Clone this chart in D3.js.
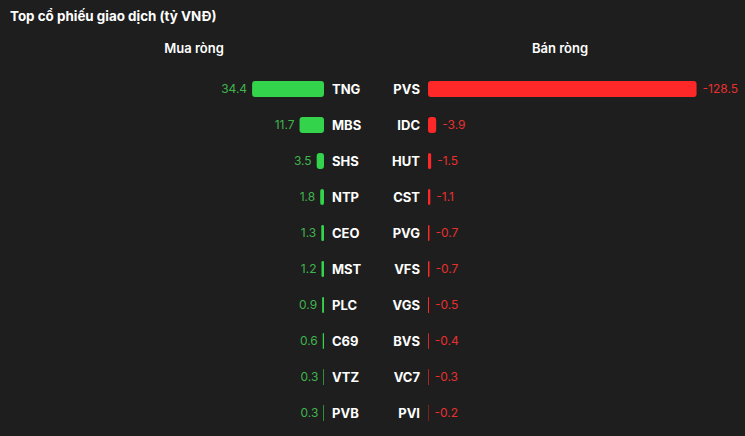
<!DOCTYPE html>
<html>
<head>
<meta charset="utf-8">
<script src="https://cdn.jsdelivr.net/npm/d3@7"></script>
<style>
  html, body { margin: 0; padding: 0; background: #1e1e1e; }
  text { font-family: Inter, "Noto Sans", sans-serif; }
</style>
</head>
<body>
<div id="chart"></div>
<script>
// du lieu
const buyTickers = ["TNG", "MBS", "SHS", "NTP", "CEO", "MST", "PLC", "C69", "VTZ", "PVB"];
const buyValues = [34.4, 11.7, 3.5, 1.8, 1.3, 1.2, 0.9, 0.6, 0.3, 0.3];
const sellTickers = ["PVS", "IDC", "HUT", "CST", "PVG", "VFS", "VGS", "BVS", "VC7", "PVI"];
const sellValues = [-128.5, -3.9, -1.5, -1.1, -0.7, -0.7, -0.5, -0.4, -0.3, -0.2];

const width = 745, height = 436;

const svg = d3.select("#chart")
  .append("svg")
  .attr("width", width)
  .attr("height", height);

svg.append("rect")
  .attr("width", width)
  .attr("height", height)
  .attr("fill", "#1e1e1e");

// titulo
svg.append("text")
  .attr("x", 10)
  .attr("y", 21)
  .attr("fill", "#fff")
  .style("font-size", "13.4px")
  .style("font-weight", "700")
  .text("Top cổ phiếu giao dịch (tỷ VNĐ)");

svg.append("text")
  .attr("x", 194)
  .attr("y", 53)
  .attr("fill", "#fff")
  .style("text-anchor", "middle")
  .style("font-size", "13px")
  .style("font-weight", "600")
  .text("Mua ròng");

svg.append("text")
  .attr("x", 560)
  .attr("y", 53)
  .attr("fill", "#fff")
  .style("text-anchor", "middle")
  .style("font-size", "13px")
  .style("font-weight", "600")
  .text("Bán ròng");

// escalas
const pxPerUnit = 2.09;
const maxAbs = d3.max(buyValues.concat(sellValues.map(Math.abs)));
const wLen = d3.scaleLinear().domain([0, maxAbs]).range([0, maxAbs * pxPerUnit]);

const y = d3.scaleBand()
  .domain(d3.range(buyTickers.length))
  .range([71, 431])
  .paddingInner(0.55)
  .paddingOuter(0.275);

const leftEnd = 324;
const rightStart = 428;
const barH = 16;

const green = "#33d44b";
const greenText = "#3fb54d";
const red = "#ff2828";
const redText = "#e8302f";

// lado compra
const buy = svg.append("g");
buy.selectAll("rect")
  .data(buyValues)
  .enter().append("rect")
  .attr("x", d => leftEnd - wLen(d))
  .attr("y", (d, i) => y(i) + y.bandwidth() / 2 - barH / 2)
  .attr("width", d => wLen(d))
  .attr("height", barH)
  .attr("rx", d => Math.min(3, wLen(d) / 2))
  .attr("fill", green);

buy.selectAll(".val")
  .data(buyValues)
  .enter().append("text")
  .attr("class", "val")
  .attr("x", d => leftEnd - wLen(d) - 5)
  .attr("y", (d, i) => y(i) + y.bandwidth() / 2)
  .attr("dy", "0.35em")
  .attr("fill", greenText)
  .style("text-anchor", "end")
  .style("font-size", "12px")
  .text(d => d.toFixed(1));

buy.selectAll(".tk")
  .data(buyTickers)
  .enter().append("text")
  .attr("class", "tk")
  .attr("x", 332)
  .attr("y", (d, i) => y(i) + y.bandwidth() / 2)
  .attr("dy", "0.35em")
  .attr("fill", "#fff")
  .style("font-size", "13px")
  .style("font-weight", "700")
  .text(d => d);

// lado venta
const sell = svg.append("g");
sell.selectAll("rect")
  .data(sellValues)
  .enter().append("rect")
  .attr("x", rightStart)
  .attr("y", (d, i) => y(i) + y.bandwidth() / 2 - barH / 2)
  .attr("width", d => wLen(Math.abs(d)))
  .attr("height", barH)
  .attr("rx", d => Math.min(3, wLen(Math.abs(d)) / 2))
  .attr("fill", red);

sell.selectAll(".val")
  .data(sellValues)
  .enter().append("text")
  .attr("class", "val")
  .attr("x", d => rightStart + wLen(Math.abs(d)) + 6)
  .attr("y", (d, i) => y(i) + y.bandwidth() / 2)
  .attr("dy", "0.35em")
  .attr("fill", redText)
  .style("font-size", "12px")
  .text(d => d.toFixed(1));

sell.selectAll(".tk")
  .data(sellTickers)
  .enter().append("text")
  .attr("class", "tk")
  .attr("x", 420)
  .attr("y", (d, i) => y(i) + y.bandwidth() / 2)
  .attr("dy", "0.35em")
  .attr("fill", "#fff")
  .style("text-anchor", "end")
  .style("font-size", "13px")
  .style("font-weight", "700")
  .text(d => d);
</script>
</body>
</html>
